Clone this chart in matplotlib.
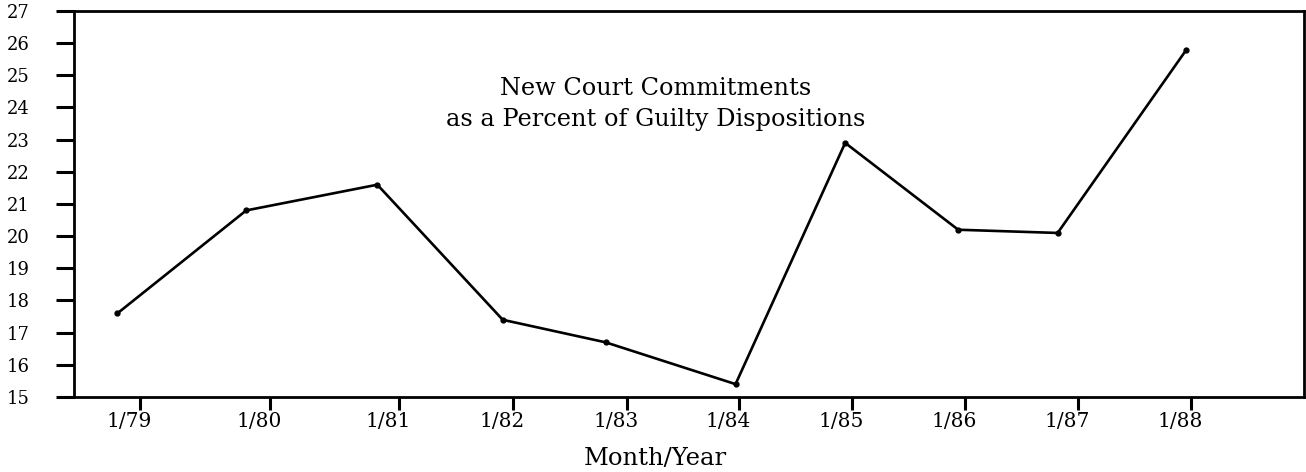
import matplotlib
matplotlib.use("Agg")
import matplotlib.pyplot as plt
from matplotlib.transforms import ScaledTranslation

# Data (x in fractional years, as placed on the original chart)
point_x = [1978.80, 1979.94, 1981.10, 1982.21, 1983.12, 1984.27, 1985.24, 1986.24, 1987.12, 1988.26]
values = [17.6, 20.8, 21.6, 17.4, 16.7, 15.4, 22.9, 20.2, 20.1, 25.8]
tick_pos = [1979.00, 1980.15, 1981.29, 1982.30, 1983.31, 1984.30, 1985.30, 1986.30, 1987.30, 1988.30]
tick_labels = ["1/79", "1/80", "1/81", "1/82", "1/83", "1/84", "1/85", "1/86", "1/87", "1/88"]
y_ticks = list(range(15, 28))
title_lines = ["New Court Commitments", "as a Percent of Guilty Dispositions"]
x_label = "Month/Year"

plt.rcParams['font.family'] = ['DejaVu Serif']

fig = plt.figure(figsize=(13.06, 4.72), dpi=100)
ax = fig.add_axes([74/1306, 1 - 397/472, 1230/1306, 386/472])

ax.plot(point_x, values, color="black", lw=1.9, marker="o", ms=3.5,
        solid_joinstyle="miter")

ax.set_xlim(1978.416, 1989.30)
ax.set_ylim(15, 27)

for s in ax.spines.values():
    s.set_linewidth(2.0)
    s.set_color("black")

ax.set_yticks(y_ticks)
ax.set_yticklabels([str(v) for v in y_ticks])
ax.tick_params(axis="y", direction="out", length=13, width=2.2, pad=19, labelsize=13)

ax.set_xticks(tick_pos)
ax.set_xticklabels(tick_labels)
ax.tick_params(axis="x", direction="out", length=9, width=2.2, pad=2, labelsize=14.5)

off = ScaledTranslation(-11/100, 0, fig.dpi_scale_trans)
for lab in ax.get_xticklabels():
    lab.set_transform(lab.get_transform() + off)

ax.text(0.473, 0.759, "\n".join(title_lines), transform=ax.transAxes,
        ha="center", va="center", fontsize=17.3, linespacing=1.4)

fig.text(655/1306, 1 - 465/472, x_label, ha="center", va="baseline", fontsize=17.5)

fig.savefig("out.png", dpi=100, facecolor="white")
